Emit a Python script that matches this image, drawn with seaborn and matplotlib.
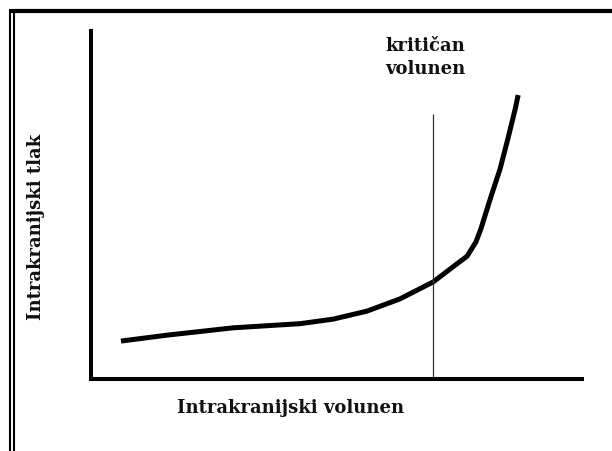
import matplotlib
matplotlib.use("Agg")
import matplotlib.pyplot as plt
from matplotlib.lines import Line2D
import seaborn as sns
import pandas as pd

# ── data (arbitrary units 0-100) ──
volumen = [6.1, 15.5, 28.9, 42.6, 49.3, 56.2, 62.9, 69.7, 73.7, 76.6,
           78.4, 79.4, 81.3, 83.3, 84.9, 86.4, 87.0]
tlak = [10.9, 12.6, 14.7, 15.9, 17.2, 19.5, 23.0, 27.9, 32.2, 35.3,
        39.4, 43.1, 51.7, 60.3, 69.0, 77.6, 81.6]
kriticni_volumen = 69.7
kriticni_vrh = 76.1

x_label = "Intrakranijski volunen"
y_label = "Intrakranijski tlak"
oznaka = "kritičan\nvolunen"

df = pd.DataFrame({"volumen": volumen, "tlak": tlak})

sns.set_style("white")
plt.rcParams["font.family"] = ["DejaVu Serif"]

fig = plt.figure(figsize=(6.12, 4.52), dpi=100)
ax = fig.add_axes([91 / 612, 72 / 452, 491 / 612, 348 / 452])

sns.lineplot(data=df, x="volumen", y="tlak", ax=ax, color="black",
             linewidth=3.6, solid_capstyle="butt", solid_joinstyle="round")
ax.vlines(kriticni_volumen, 0, kriticni_vrh, color="#333333", linewidth=0.9)

ax.set_xlim(0, 100)
ax.set_ylim(0, 100)
ax.set_xticks([])
ax.set_yticks([])
ax.set_xlabel("")
ax.set_ylabel("")
for s in ["top", "right"]:
    ax.spines[s].set_visible(False)
for s in ["left", "bottom"]:
    ax.spines[s].set_linewidth(2.9)
    ax.spines[s].set_color("black")

ax.text(59.9, 98.6, oznaka, ha="left", va="top", fontsize=13,
        fontweight="bold", linespacing=1.35, color="#111111")

fig.text(290.5 / 612, 39 / 452, x_label, ha="center", va="baseline",
         fontsize=13, fontweight="bold", color="#111111")
fig.text(36 / 612, 225 / 452, y_label, ha="center", va="center",
         rotation=90, fontsize=13, fontweight="bold", color="#111111")

# frame: thick top rule, double rule on the left
fig.add_artist(Line2D([9 / 612, 1], [1 - 12 / 452] * 2, color="black",
                      linewidth=3, solid_capstyle="butt",
                      transform=fig.transFigure))
fig.add_artist(Line2D([10 / 612] * 2, [0, 1 - 10 / 452], color="black",
                      linewidth=1.5, solid_capstyle="butt",
                      transform=fig.transFigure))
fig.add_artist(Line2D([14 / 612] * 2, [0, 1 - 14 / 452], color="black",
                      linewidth=1.5, solid_capstyle="butt",
                      transform=fig.transFigure))

fig.savefig("out.png", dpi=100, facecolor="white")
